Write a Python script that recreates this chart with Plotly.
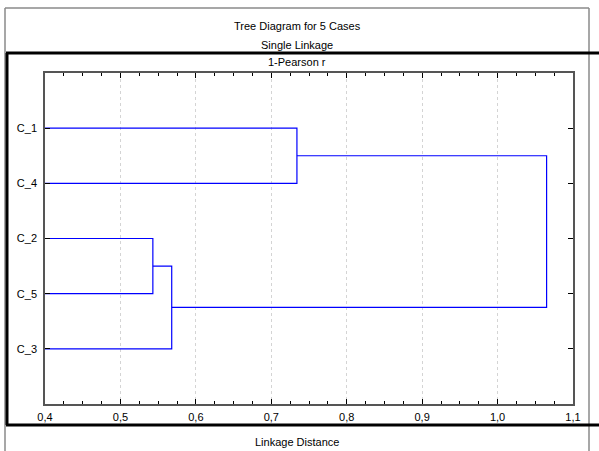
import plotly.graph_objects as go

# ---- data ----
leaf_labels = ["C_1", "C_4", "C_2", "C_5", "C_3"]
merge_a = ["C_2", "M1", "C_1", "M3"]
merge_b = ["C_5", "C_3", "C_4", "M2"]
merge_dist = [0.543, 0.568, 0.734, 1.065]
x_tick_vals = [0.4, 0.5, 0.6, 0.7, 0.8, 0.9, 1.0, 1.1]
x_tick_text = ["0,4", "0,5", "0,6", "0,7", "0,8", "0,9", "1,0", "1,1"]

# ---- layout geometry (pixels) ----
W, H = 599, 451
L, R, T, B = 45, 26, 73, 47
PW, PH = W - L - R, H - T - B


def px(x):
    return (x - L) / PW


def py(y):
    return (H - B - y) / PH


# ---- build dendrogram segments ----
node_y = {name: i + 1 for i, name in enumerate(leaf_labels)}
node_x = {name: 0.0 for name in leaf_labels}
xs, ys = [], []
for i, (a, b, d) in enumerate(zip(merge_a, merge_b, merge_dist)):
    ya, yb = node_y[a], node_y[b]
    xs += [node_x[a], d, d, node_x[b], None]
    ys += [ya, ya, yb, yb, None]
    name = "M%d" % (i + 1)
    node_y[name] = (ya + yb) / 2
    node_x[name] = d

fig = go.Figure()
fig.add_trace(go.Scatter(x=xs, y=ys, mode="lines",
                         line=dict(color="#0000ff", width=1.2),
                         hoverinfo="skip", showlegend=False))

font = dict(family="Liberation Sans, Arial, sans-serif", size=11, color="#000")

fig.update_layout(
    width=W, height=H,
    margin=dict(l=L, r=R, t=T, b=B, pad=0),
    paper_bgcolor="white", plot_bgcolor="white",
    font=font, showlegend=False,
    xaxis=dict(range=[0.4, 1.1], tickvals=x_tick_vals, ticktext=x_tick_text,
               ticks="inside", ticklen=5, tickcolor="#000", tickwidth=1,
               showline=True, linecolor="#555", linewidth=1.5, mirror="ticks",
               showgrid=True, gridcolor="#d4d4d4", griddash="dot", gridwidth=1,
               zeroline=False, ticklabelstandoff=2,
               minor=dict(dtick=0.025, tick0=0.4, ticks="inside", ticklen=3,
                          tickcolor="#000", showgrid=False)),
    yaxis=dict(range=[6, 0], tickvals=[1, 2, 3, 4, 5], ticktext=leaf_labels,
               ticks="inside", ticklen=5, tickcolor="#000", tickwidth=1,
               showline=True, linecolor="#555", linewidth=1.5, mirror="ticks",
               showgrid=False, zeroline=False, ticklabelstandoff=4),
)

# titles
for text, y in [("Tree Diagram for 5 Cases", 26), ("Single Linkage", 45),
                ("1-Pearson r", 62), ("Linkage Distance", 442)]:
    fig.add_annotation(text=text, xref="paper", yref="paper",
                       x=px(297), y=py(y), showarrow=False, font=font,
                       xanchor="center", yanchor="middle")

# frame lines
shapes = []
gray = dict(color="#8a8a8a", width=1.5)
for x0, y0, x1, y1 in [(5, 8, 589, 8), (5, 8, 5, 451), (589, 8, 589, 451)]:
    shapes.append(dict(type="line", xref="paper", yref="paper",
                       x0=px(x0), y0=py(y0), x1=px(x1), y1=py(y1), line=gray))
black = dict(color="#000", width=3)
for x0, y0, x1, y1 in [(6, 53, 599, 53), (6, 425, 599, 425), (7, 53, 7, 425)]:
    shapes.append(dict(type="line", xref="paper", yref="paper",
                       x0=px(x0), y0=py(y0), x1=px(x1), y1=py(y1), line=black))
fig.update_layout(shapes=shapes)

fig.write_html("out.html", config={"displayModeBar": False},
               post_script="document.body.style.margin='0';"
                           "document.body.style.overflow='hidden';")
